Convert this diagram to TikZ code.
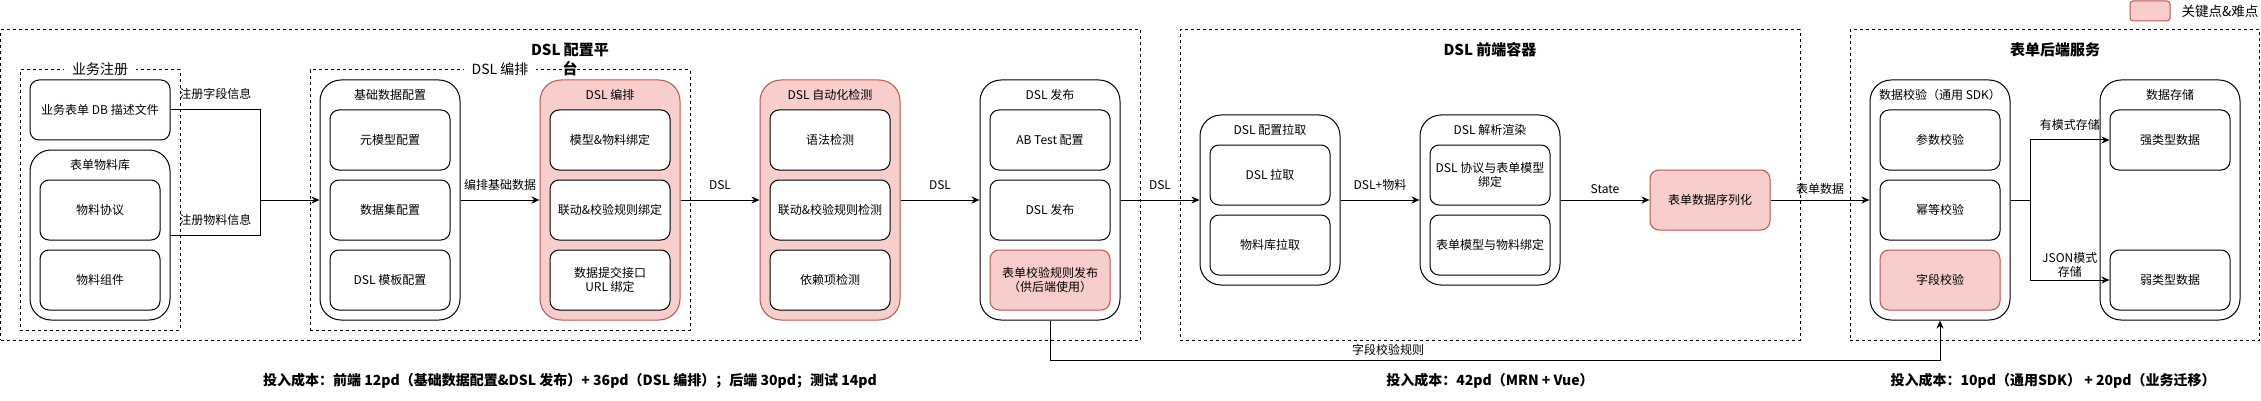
\documentclass[tikz,border=0pt]{standalone}
\usepackage{fontspec}
\setmainfont{Noto Sans CJK SC}
\usetikzlibrary{arrows.meta, positioning}

\definecolor{keyfill}{HTML}{F8CECC}
\definecolor{keyline}{HTML}{B85450}

\tikzset{
    every node/.style={font=\fontsize{12}{14}\selectfont, align=center},
    grp/.style={draw, line width=1pt, dash pattern=on 3pt off 3pt},
    ctr/.style={draw, line width=1pt, rounded corners=21pt, minimum width=140pt, minimum height=240pt},
    itm/.style={draw, fill=white, line width=1pt, rounded corners=9pt, minimum width=120pt, minimum height=60pt},
    key/.style={fill=keyfill, draw=keyline},
    tag/.style={fill=white, inner xsep=8pt, inner ysep=1pt, font=\fontsize{14}{16}\selectfont},
    hdr/.style={font=\bfseries\fontsize{15}{19}\selectfont},
    cost/.style={font=\bfseries\fontsize{14}{17}\selectfont},
    lnk/.style={line width=1pt, -{Stealth[length=8pt, width=7pt, inset=2.5pt]}},
    wire/.style={line width=1pt},
    lbl/.style={inner sep=0pt, text height=9pt, text depth=2pt, above=8.5pt},
    lbls/.style={lbl, above=3.8pt},
    lblm/.style={inner sep=0pt, above=2pt},
}

\begin{document}
\begin{tikzpicture}[x=1pt, y=-1pt]
    \useasboundingbox (0, 0) rectangle (2261, 401);

    % dashed groups
    \node [grp, minimum width=1139.5pt, minimum height=310pt] (plat) at (570.25, 185) {};
    \node [grp, minimum width=160pt, minimum height=260pt] (reg) at (100, 200) {};
    \node [grp, minimum width=380pt, minimum height=260pt] (arr) at (500, 200) {};
    \node [grp, minimum width=620pt, minimum height=310pt] (fe) at (1490, 185) {};
    \node [grp, minimum width=409.5pt, minimum height=310pt] (be) at (2054.75, 185) {};
    \node [tag] (regTag) at (reg.north) {业务注册};
    \node [tag] (arrTag) at (arr.north) {DSL 编排};

    \node [hdr] (platTitle) at (570, 59.5) {DSL 配置平\\台};
    \node [hdr] (feTitle) at (1490, 50) {DSL 前端容器};
    \node [hdr] (beTitle) at (2055, 50) {表单后端服务};

    % business registration
    \node [itm, minimum width=140pt] (db) at (100, 110) {业务表单 DB 描述文件};
    \node [ctr, minimum height=170pt] (lib) at (100, 235) {};
    \node (libT) at (100, 165) {表单物料库};
    \node [itm] (proto) at (100, 210) {物料协议};
    \node [itm] (comp) at (100, 280) {物料组件};

    % DSL orchestration
    \node [ctr] (base) at (390, 200) {};
    \node (baseT) at (390, 95) {基础数据配置};
    \node [itm] (meta) at (390, 140) {元模型配置};
    \node [itm] (dset) at (390, 210) {数据集配置};
    \node [itm] (tpl) at (390, 280) {DSL 模板配置};

    \node [ctr, key] (orch) at (610, 200) {};
    \node (orchT) at (610, 95) {DSL 编排};
    \node [itm] (bindMat) at (610, 140) {模型\&物料绑定};
    \node [itm] (bindRule) at (610, 210) {联动\&校验规则绑定};
    \node [itm] (bindUrl) at (610, 280) {数据提交接口\\URL 绑定};

    \node [ctr, key] (auto) at (830, 200) {};
    \node (autoT) at (830, 95) {DSL 自动化检测};
    \node [itm] (syn) at (830, 140) {语法检测};
    \node [itm] (ruleChk) at (830, 210) {联动\&校验规则检测};
    \node [itm] (dep) at (830, 280) {依赖项检测};

    \node [ctr] (pub) at (1050, 200) {};
    \node (pubT) at (1050, 95) {DSL 发布};
    \node [itm] (ab) at (1050, 140) {AB Test 配置};
    \node [itm] (pubDsl) at (1050, 210) {DSL 发布};
    \node [itm, key] (pubRule) at (1050, 280) {表单校验规则发布\\（供后端使用）};

    % front-end container
    \node [ctr, minimum height=170pt] (fetch) at (1270, 200) {};
    \node (fetchT) at (1270, 130) {DSL 配置拉取};
    \node [itm] (fetchDsl) at (1270, 175) {DSL 拉取};
    \node [itm] (fetchLib) at (1270, 245) {物料库拉取};

    \node [ctr, minimum height=170pt] (render) at (1490, 200) {};
    \node (renderT) at (1490, 130) {DSL 解析渲染};
    \node [itm] (rBind) at (1490, 175) {DSL 协议与表单模型\\绑定};
    \node [itm] (rMat) at (1490, 245) {表单模型与物料绑定};

    \node [itm, key] (ser) at (1710, 200) {表单数据序列化};

    % back-end service
    \node [ctr] (chk) at (1940, 200) {};
    \node (chkT) at (1940, 95) {数据校验（通用 SDK）};
    \node [itm] (param) at (1940, 140) {参数校验};
    \node [itm] (idem) at (1940, 210) {幂等校验};
    \node [itm, key] (field) at (1940, 280) {字段校验};

    \node [ctr] (store) at (2170, 200) {};
    \node (storeT) at (2170, 95) {数据存储};
    \node [itm] (strong) at (2170, 140) {强类型数据};
    \node [itm] (weak) at (2170, 280) {弱类型数据};

    % legend
    \node [key, line width=1pt, rounded corners=3pt, minimum width=40pt, minimum height=20pt] (keyBox) at (2150, 11) {};
    \node [font=\fontsize{13.5}{16}\selectfont] (keyTxt) at (2220, 11) {关键点\&难点};

    % connectors
    \coordinate (j1) at (260, 200);
    \draw [lnk] (db.east) -| (j1) node [lbl, pos=0.25] {注册字段信息} -- (base.west);
    \draw [wire] (lib.east) -| (j1) node [lbl, pos=0.25] {注册物料信息};
    \draw [lnk] (base.east) -- (orch.west) node [lbl, midway] {编排基础数据};
    \draw [lnk] (orch.east) -- (auto.west) node [lbl, midway] {DSL};
    \draw [lnk] (auto.east) -- (pub.west) node [lbl, midway] {DSL};
    \draw [lnk] (pub.east) -- (fetch.west) node [lbl, midway] {DSL};
    \draw [lnk] (fetch.east) -- (render.west) node [lbl, midway] {DSL+物料};
    \draw [lnk] (render.east) -- (ser.west) node [lbls, midway] {State};
    \draw [lnk] (ser.east) -- (chk.west) node [lbls, midway] {表单数据};
    \coordinate (j2) at (2030, 200);
    \draw [wire] (chk.east) -- (j2);
    \draw [lnk] (j2) |- (strong.west) node [lbl, pos=0.75] {有模式存储};
    \draw [lnk] (j2) |- (weak.west) node [lblm, pos=0.75] {JSON模式\\存储};
    \draw [lnk] (pub.south) -- ++(0, 40) -| (chk.south) node [lbls, pos=0.19] {字段校验规则};

    % costs
    \node [cost] (costCfg) at (570, 381) {投入成本：前端 12pd（基础数据配置\&DSL 发布）+ 36pd（DSL 编排）；后端 30pd；测试 14pd};
    \node [cost] (costFe) at (1490, 381) {投入成本：42pd（MRN + Vue）};
    \node [cost] (costBe) at (2053, 381) {投入成本：10pd（通用SDK） + 20pd（业务迁移）};
\end{tikzpicture}
\end{document}
